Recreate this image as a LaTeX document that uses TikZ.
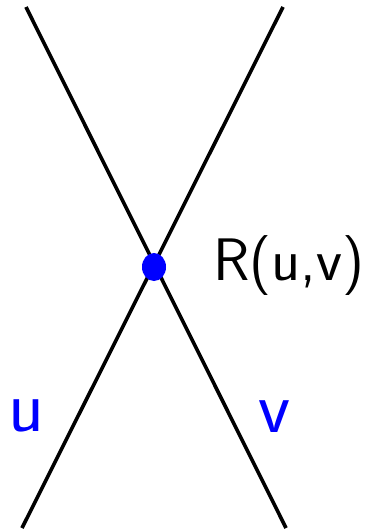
\documentclass[tikz,border=0pt]{standalone}
\usetikzlibrary{shapes.geometric}
\begin{document}
\begin{tikzpicture}[x=1pt,y=-1pt,
  edge/.style={line width=3.6pt,black},
  dotnode/.style={ellipse,fill=blue,minimum width=24pt,minimum height=28pt,inner sep=0pt},
  bigtext/.style={font=\sffamily\fontsize{60}{72}\selectfont,inner sep=0pt,anchor=base west},
  lbl/.style={font=\sffamily\fontsize{74}{88}\selectfont,text=blue,inner sep=0pt,anchor=base west}]
\useasboundingbox (0,0) rectangle (371,530);
\coordinate (tl) at (26,7);
\coordinate (br) at (286,528);
\coordinate (tr) at (283,7);
\coordinate (bl) at (22,528);
\draw[edge] (tl) -- (br);
\draw[edge] (tr) -- (bl);
\node[dotnode] (R) at (154,267) {};
\node[bigtext] (Rl) at (213,280) {R(u,v)};
\node[lbl] (u) at (8,431) {u};
\node[lbl] (v) at (258,432) {v};
\end{tikzpicture}
\end{document}
